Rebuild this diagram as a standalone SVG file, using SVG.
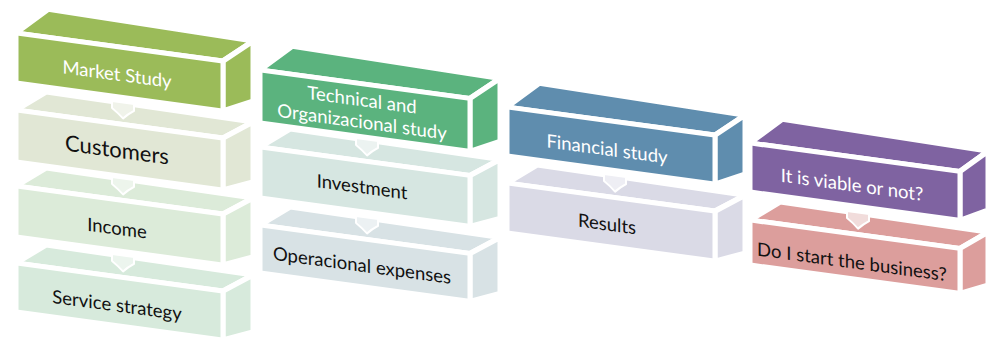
<svg xmlns="http://www.w3.org/2000/svg" width="987" height="342" viewBox="0 0 987 342">
  <style>
    .face { stroke: #ffffff; stroke-width: 5; stroke-linejoin: round; }
    .lbl { font-family: Lato, "Open Sans", "Liberation Sans", sans-serif; font-size: 18.5px; text-anchor: middle; }
    .hd { fill: #ffffff; }
    .ch { fill: #111111; }
    .notch { stroke: #ffffff; stroke-width: 2; stroke-linejoin: round; }
  </style>
  <rect width="987" height="342" fill="#ffffff"/>

  <!-- Column 1: Market Study (lower boxes drawn first so the upper ones sit on top) -->
  <g id="service-strategy" transform="translate(16,263) skewY(7.7)">
    <polygon class="face" fill="#D7EADC" points="0,0 30,-22 237,-20 207,0"/>
    <polygon class="face" fill="#D7EADC" points="207,0 237,-20 237,37 207,49"/>
    <rect class="face" fill="#D7EADC" x="0" y="0" width="207" height="49"/>
    <text class="lbl ch" x="101" y="35">Service strategy</text>
  </g>
  <g id="income" transform="translate(16,186) skewY(7.7)">
    <polygon class="face" fill="#DCEBD9" points="0,0 30,-22 237,-20 207,0"/>
    <polygon class="face" fill="#DCEBD9" points="207,0 237,-20 237,39 207,51"/>
    <rect class="face" fill="#DCEBD9" x="0" y="0" width="207" height="51"/>
    <text class="lbl ch" x="101" y="35">Income</text>
  </g>
  <g id="customers" transform="translate(16,110) skewY(7.7)">
    <polygon class="face" fill="#E1E7D5" points="0,0 30,-22 237,-20 207,0"/>
    <polygon class="face" fill="#E1E7D5" points="207,0 237,-20 237,40 207,52"/>
    <rect class="face" fill="#E1E7D5" x="0" y="0" width="207" height="52"/>
    <text class="lbl ch" x="101" y="34" style="font-size:22px">Customers</text>
  </g>
  <g id="market-study" transform="translate(16,33) skewY(7.7)">
    <polygon class="face" fill="#9BBB59" points="0,0 32,-28 237,-24 207,0"/>
    <polygon class="face" fill="#9BBB59" points="207,0 237,-24 237,36 207,50"/>
    <rect class="face" fill="#9BBB59" x="0" y="0" width="207" height="50"/>
    <text class="lbl hd" x="101" y="34">Market Study</text>
  </g>

  <!-- Column 2: Technical and Organizacional study -->
  <g id="operacional-expenses" transform="translate(260,225) skewY(7.7)">
    <polygon class="face" fill="#D8E2E5" points="0,0 30,-22 240,-20 210,0"/>
    <polygon class="face" fill="#D8E2E5" points="210,0 240,-20 240,36 210,48"/>
    <rect class="face" fill="#D8E2E5" x="0" y="0" width="210" height="48"/>
    <text class="lbl ch" x="102" y="33">Operacional expenses</text>
  </g>
  <g id="investment" transform="translate(260,147) skewY(7.7)">
    <polygon class="face" fill="#D6E6E1" points="0,0 30,-22 240,-20 210,0"/>
    <polygon class="face" fill="#D6E6E1" points="210,0 240,-20 240,39 210,51"/>
    <rect class="face" fill="#D6E6E1" x="0" y="0" width="210" height="51"/>
    <text class="lbl ch" x="102" y="32.5">Investment</text>
  </g>
  <g id="technical-study" transform="translate(260,70) skewY(7.7)">
    <polygon class="face" fill="#5BB37E" points="0,0 32,-28 240,-24 210,0"/>
    <polygon class="face" fill="#5BB37E" points="210,0 240,-24 240,39 210,53"/>
    <rect class="face" fill="#5BB37E" x="0" y="0" width="210" height="53"/>
    <text class="lbl hd" x="102" y="22.5">Technical and</text>
    <text class="lbl hd" x="102" y="44.5">Organizacional study</text>
  </g>

  <!-- Column 3: Financial study -->
  <g id="results" transform="translate(507,183) skewY(7.7)">
    <polygon class="face" fill="#DADAE6" points="0,0 30,-22 238,-20 208,0"/>
    <polygon class="face" fill="#DADAE6" points="208,0 238,-20 238,38 208,50"/>
    <rect class="face" fill="#DADAE6" x="0" y="0" width="208" height="50"/>
    <text class="lbl ch" x="100" y="34">Results</text>
  </g>
  <g id="financial-study" transform="translate(507,107) skewY(7.7)">
    <polygon class="face" fill="#5F8DAE" points="0,0 32,-28 238,-24 208,0"/>
    <polygon class="face" fill="#5F8DAE" points="208,0 238,-24 238,35 208,49"/>
    <rect class="face" fill="#5F8DAE" x="0" y="0" width="208" height="49"/>
    <text class="lbl hd" x="100" y="35">Financial study</text>
  </g>

  <!-- Column 4: viability decision -->
  <g id="start-business" transform="translate(750,220) skewY(7.7)">
    <polygon class="face" fill="#DC9E9C" points="0,0 30,-22 238,-20 210,0"/>
    <polygon class="face" fill="#DC9E9C" points="210,0 238,-20 238,33 210,45"/>
    <rect class="face" fill="#DC9E9C" x="0" y="0" width="210" height="45"/>
    <text class="lbl ch" x="102" y="34.5">Do I start the business?</text>
  </g>
  <g id="viable" transform="translate(750,143) skewY(7.7)">
    <polygon class="face" fill="#7F63A1" points="0,0 32,-28 238,-24 210,0"/>
    <polygon class="face" fill="#7F63A1" points="210,0 238,-24 238,35 210,49"/>
    <rect class="face" fill="#7F63A1" x="0" y="0" width="210" height="49"/>
    <text class="lbl hd" x="102" y="34.5">It is viable or not?</text>
  </g>

  <!-- Down-pointing tabs linking each box to the one below it -->
  <g id="connectors">
    <path class="notch" fill="#F0F3EA" transform="translate(16,110) skewY(7.7)" d="M96,-22 L118,-22 L118,-15 Q112,-11 107,-6 Q102,-11 96,-15 Z"/>
    <path class="notch" fill="#EDF5EC" transform="translate(16,186) skewY(7.7)" d="M96,-22 L118,-22 L118,-15 Q112,-11 107,-6 Q102,-11 96,-15 Z"/>
    <path class="notch" fill="#ECF5EE" transform="translate(16,263) skewY(7.7)" d="M96,-22 L118,-22 L118,-15 Q112,-11 107,-6 Q102,-11 96,-15 Z"/>
    <path class="notch" fill="#ECF3F1" transform="translate(260,147) skewY(7.7)" d="M96,-22 L118,-22 L118,-15 Q112,-11 107,-6 Q102,-11 96,-15 Z"/>
    <path class="notch" fill="#ECF1F3" transform="translate(260,225) skewY(7.7)" d="M96,-22 L118,-22 L118,-15 Q112,-11 107,-6 Q102,-11 96,-15 Z"/>
    <path class="notch" fill="#EEEEF4" transform="translate(507,183) skewY(7.7)" d="M97,-22 L119,-22 L119,-15 Q113,-11 108,-6 Q103,-11 97,-15 Z"/>
    <path class="notch" fill="#F1DCDB" transform="translate(750,220) skewY(7.7)" d="M97,-22 L119,-22 L119,-15 Q113,-11 108,-6 Q103,-11 97,-15 Z"/>
  </g>
</svg>
